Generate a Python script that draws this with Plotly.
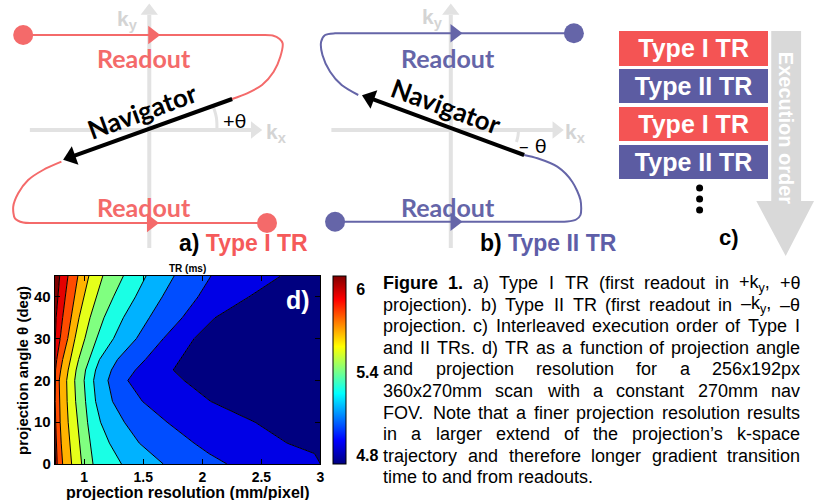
import math
import plotly.graph_objects as go

W, H = 825, 500          # design coordinates (reference pixels)
FIG_W, FIG_H = 825, 508  # figure size (page is photographed and fitted to 825x500)

# ======================= DATA =======================
# Panel d: filled-contour boundaries of TR (ms).
# For each TR level: projection resolution (mm/pixel) where the contour crosses each angle.
angle_deg = [0, 2.5, 5, 10, 15, 20, 22.5, 25, 30, 35, 40, 45]
tr_levels_ms = [4.87, 4.99, 5.11, 5.23, 5.35, 5.47, 5.59, 5.71, 5.83, 5.95]
res_tr_4_87 = [3.000, 2.950, 2.718, 2.447, 2.070, 1.845, 1.753, 1.812, 1.930, 2.107, 2.394, 2.663]
res_tr_4_99 = [2.208, 2.056, 1.930, 1.702, 1.492, 1.369, 1.433, 1.517, 1.669, 1.829, 1.963, 2.073]
res_tr_5_11 = [1.669, 1.567, 1.466, 1.340, 1.239, 1.201, 1.230, 1.281, 1.441, 1.551, 1.660, 1.761]
res_tr_5_23 = [1.315, 1.264, 1.213, 1.138, 1.096, 1.079, 1.096, 1.129, 1.247, 1.331, 1.433, 1.523]
res_tr_5_35 = [1.074, 1.062, 1.049, 1.028, 1.011, 0.999, 1.011, 1.041, 1.104, 1.167, 1.247, 1.331]
res_tr_5_47 = [0.978, 0.969, 0.961, 0.944, 0.927, 0.919, 0.931, 0.952, 1.005, 1.049, 1.104, 1.157]
res_tr_5_59 = [0.893, 0.885, 0.876, 0.864, 0.855, 0.851, 0.864, 0.881, 0.921, 0.956, 0.999, 1.039]
res_tr_5_71 = [0.817, 0.809, 0.805, 0.796, 0.792, 0.788, 0.801, 0.817, 0.860, 0.889, 0.919, 0.946]
res_tr_5_83 = [0.771, 0.767, 0.763, 0.758, 0.754, 0.753, 0.757, 0.767, 0.796, 0.817, 0.838, 0.862]
res_tr_5_95 = [0.757, 0.754, 0.750, 0.750, 0.750, 0.750, 0.750, 0.750, 0.755, 0.762, 0.775, 0.792]
res_axis = [0.75, 3.0]
angle_axis = [0, 45]
tr_colorbar = [4.74, 6.10]
res_ticks = [1, 1.5, 2, 2.5, 3]
res_ticktext = ["1", "1.5", "2", "2.5", "3"]
angle_ticks = [0, 10, 20, 30, 40]
tr_ticks = [4.8, 5.4, 6]
tr_ticktext = ["4.8", "5.4", "6"]

# Panel a: Type I TR k-space trajectory (kx, ky)
a_top_kx = [-1.267, 1.10, 1.24, 1.31, 1.34, 1.317, 1.25, 1.133, 0.983, 0.833]
a_top_ky = [0.95, 0.95, 0.945, 0.91, 0.867, 0.733, 0.583, 0.45, 0.367, 0.31]
a_nav_kx = [0.833, -0.87]
a_nav_ky = [0.31, -0.30]
a_bot_kx = [-0.883, -1.067, -1.217, -1.317, -1.367, -1.35, -1.267, -1.15, 1.183]
a_bot_ky = [-0.317, -0.40, -0.50, -0.633, -0.767, -0.883, -0.925, -0.93, -0.93]
a_dots_kx = [-1.267, 1.183]
a_dots_ky = [0.95, -0.93]
a_dir_kx = [0.03, 0.017]
a_dir_ky = [0.95, -0.93]

# Panel b: Type II TR k-space trajectory (kx, ky)
b_bot_kx = [-1.163, 1.0, 1.17, 1.26, 1.303, 1.303, 1.22, 1.07, 0.87, 0.737]
b_bot_ky = [-0.917, -0.917, -0.915, -0.895, -0.85, -0.70, -0.517, -0.367, -0.283, -0.25]
b_nav_kx = [0.737, -0.897]
b_nav_ky = [-0.25, 0.35]
b_top_kx = [-0.93, -1.097, -1.213, -1.29, -1.303, -1.263, -1.163, -1.0, 1.237]
b_top_ky = [0.35, 0.45, 0.583, 0.75, 0.883, 0.95, 0.967, 0.967, 0.967]
b_dots_kx = [-1.163, 1.237]
b_dots_ky = [-0.917, 0.967]
b_dir_kx = [0.037, 0.037]
b_dir_ky = [0.967, -0.917]

# k-space axes (shaft extents, head positions)
k_axis_x = [-1.2, 1.04]
k_axis_y = [-1.18, 1.15]
k_head_x = 1.06
k_head_y = 1.19

# Panel c: interleaved execution order
exec_order = ["Type I TR", "Type II TR", "Type I TR", "Type II TR"]
exec_slot = [1, 2, 3, 4]

# Caption
caption_lines = [
    "<b>Figure</b> <b>1.</b> a) Type I TR (first readout in +k<sub>y</sub>, +θ",
    "projection). b) Type II TR (first readout in –k<sub>y</sub>, –θ",
    "projection. c) Interleaved execution order of Type I",
    "and II TRs. d) TR as a function of projection angle",
    "and projection resolution for a 256x192px",
    "360x270mm scan with a constant 270mm nav",
    "FOV. Note that a finer projection resolution results",
    "in a larger extend of the projection’s k-space",
    "trajectory and therefore longer gradient transition",
    "time to and from readouts.",
]

# ======================= STYLE =======================
SALMON = "#f46a6a"
SALMON_TXT = "#f55a5a"
PURPLE = "#6565a8"
PURPLE_TXT = "#5e5ea8"
BOX_RED = "#f45454"
BOX_PURPLE = "#5c5ca2"
GRAY_AX = "rgb(226,226,226)"
GRAY_LBL = "rgb(212,212,212)"
ARIAL = "Liberation Sans, Arial, sans-serif"
CAL = "Lato, Open Sans, sans-serif"


def jet(f):
    r = min(max(1.5 - abs(4 * f - 3), 0), 1)
    g = min(max(1.5 - abs(4 * f - 2), 0), 1)
    b = min(max(1.5 - abs(4 * f - 1), 0), 1)
    return "rgb(%d,%d,%d)" % (round(255 * r), round(255 * g), round(255 * b))


JET = [[i / 8, jet(i / 8)] for i in range(9)]


def px(p):
    return p / W


def py(p):
    return 1 - p / H


fig = go.Figure()

# ---------------- Panel d ----------------
lines_hi_to_lo = [res_tr_5_95, res_tr_5_83, res_tr_5_71, res_tr_5_59, res_tr_5_47,
                  res_tr_5_35, res_tr_5_23, res_tr_5_11, res_tr_4_99, res_tr_4_87]
n_lv = len(tr_levels_ms)
fig.add_trace(go.Scatter(x=[res_axis[0]] * len(angle_deg), y=angle_deg, mode="lines",
                         line=dict(width=0), hoverinfo="skip", showlegend=False))
for i, xs in enumerate(lines_hi_to_lo):
    band = n_lv - i
    fig.add_trace(go.Scatter(x=xs, y=angle_deg, mode="lines",
                             line=dict(color="black", width=1),
                             fill="tonextx", fillcolor=jet(band / n_lv),
                             name="TR %.2f ms" % tr_levels_ms[band - 1],
                             hoverinfo="skip", showlegend=False))
fig.add_trace(go.Scatter(x=[res_axis[1]] * len(angle_deg), y=angle_deg, mode="lines",
                         line=dict(width=0), fill="tonextx", fillcolor=jet(0),
                         hoverinfo="skip", showlegend=False))
# continuous colorbar
fig.add_trace(go.Scatter(
    x=[res_axis[0]], y=[angle_axis[0]], mode="markers", showlegend=False, hoverinfo="skip",
    marker=dict(size=1, opacity=0, color=[tr_ticks[0]], colorscale=JET,
                cmin=tr_colorbar[0], cmax=tr_colorbar[1], showscale=True,
                colorbar=dict(x=px(335), xanchor="left", y=py(370), yanchor="middle",
                              len=188 / H, lenmode="fraction", thickness=13,
                              outlinecolor="black", outlinewidth=1, xpad=0, ypad=0,
                              tickvals=tr_ticks, ticktext=tr_ticktext, ticks="outside",
                              ticklen=7, tickcolor="rgba(0,0,0,0)",
                              tickfont=dict(family=ARIAL, size=16, color="black", weight="bold")))))

# ---------------- Panels a, b ----------------
for ax in ("x2", "x3"):
    yax = "y2" if ax == "x2" else "y3"
    fig.add_trace(go.Scatter(x=[0, 0], y=k_axis_y, xaxis=ax, yaxis=yax, mode="lines",
                             line=dict(color=GRAY_AX, width=4), hoverinfo="skip", showlegend=False))
    fig.add_trace(go.Scatter(x=k_axis_x, y=[0, 0], xaxis=ax, yaxis=yax, mode="lines",
                             line=dict(color=GRAY_AX, width=4), hoverinfo="skip", showlegend=False))
    fig.add_trace(go.Scatter(x=[0, k_head_x], y=[k_head_y, 0], xaxis=ax, yaxis=yax, mode="markers",
                             marker=dict(symbol=["triangle-up", "triangle-right"], size=15,
                                         color=GRAY_AX), hoverinfo="skip", showlegend=False))

# angle arcs
fig.add_trace(go.Scatter(x=[0.68, 0.675, 0.645], y=[0.0, 0.12, 0.23], xaxis="x2", yaxis="y2",
                         mode="lines", line=dict(color=GRAY_AX, width=3, shape="spline"),
                         hoverinfo="skip", showlegend=False))
fig.add_trace(go.Scatter(x=[0.68, 0.675, 0.66], y=[0.0, -0.06, -0.12], xaxis="x3", yaxis="y3",
                         mode="lines", line=dict(color=GRAY_AX, width=3, shape="spline"),
                         hoverinfo="skip", showlegend=False))

for (kx, ky, col, ax, yax) in [
    (a_top_kx, a_top_ky, SALMON, "x2", "y2"), (a_bot_kx, a_bot_ky, SALMON, "x2", "y2"),
    (b_top_kx, b_top_ky, PURPLE, "x3", "y3"), (b_bot_kx, b_bot_ky, PURPLE, "x3", "y3")]:
    fig.add_trace(go.Scatter(x=kx, y=ky, xaxis=ax, yaxis=yax, mode="lines",
                             line=dict(color=col, width=2, shape="spline", smoothing=0.8),
                             hoverinfo="skip", showlegend=False))

for (dx, dy, tx, ty, col, ax, yax) in [
    (a_dots_kx, a_dots_ky, a_dir_kx, a_dir_ky, SALMON, "x2", "y2"),
    (b_dots_kx, b_dots_ky, b_dir_kx, b_dir_ky, PURPLE, "x3", "y3")]:
    fig.add_trace(go.Scatter(x=dx, y=dy, xaxis=ax, yaxis=yax, mode="markers",
                             marker=dict(size=20, color=col), hoverinfo="skip", showlegend=False))
    fig.add_trace(go.Scatter(x=tx, y=ty, xaxis=ax, yaxis=yax, mode="markers",
                             marker=dict(size=16, color=col, symbol="triangle-right"),
                             hoverinfo="skip", showlegend=False))

# navigator arrows (shaft + rotated triangle head)
HEAD_BACK = 0.09
for (nx, ny, ax, yax) in [(a_nav_kx, a_nav_ky, "x2", "y2"), (b_nav_kx, b_nav_ky, "x3", "y3")]:
    dxn, dyn = nx[1] - nx[0], ny[1] - ny[0]
    L = math.hypot(dxn, dyn)
    ux, uy = dxn / L, dyn / L
    cx, cy = nx[1] - HEAD_BACK * ux, ny[1] - HEAD_BACK * uy
    phi = math.degrees(math.atan2(dyn, dxn)) % 360
    mangle = -(phi - 180)
    fig.add_trace(go.Scatter(x=[nx[0], cx], y=[ny[0], cy], xaxis=ax, yaxis=yax, mode="lines",
                             line=dict(color="black", width=4), hoverinfo="skip", showlegend=False))
    fig.add_trace(go.Scatter(x=[cx], y=[cy], xaxis=ax, yaxis=yax, mode="markers",
                             marker=dict(symbol="triangle-left", size=17, color="black", angle=mangle,
                                         line=dict(width=0)),
                             hoverinfo="skip", showlegend=False))

# ---------------- Panel c ----------------
fig.add_trace(go.Bar(
    x=[1] * len(exec_order), y=exec_slot, orientation="h", width=0.9, base=0,
    xaxis="x4", yaxis="y4",
    marker=dict(color=[BOX_RED if t == "Type I TR" else BOX_PURPLE for t in exec_order], line=dict(width=0)),
    text=exec_order, textposition="inside", insidetextanchor="middle", textangle=0,
    textfont=dict(family=ARIAL, size=25, color="white", weight="bold"),
    hoverinfo="skip", showlegend=False))
fig.add_trace(go.Scatter(x=[0.54, 0.54, 0.54], y=[4.68, 4.97, 5.26], xaxis="x4", yaxis="y4",
                         mode="markers", marker=dict(size=7, color="black"), cliponaxis=False,
                         hoverinfo="skip", showlegend=False))

# ======================= ANNOTATIONS =======================
ann = []


def A(text, x, y, xref="paper", yref="paper", size=15, color="black", family=ARIAL,
      bold=False, angle=0, xanchor="center", yanchor="middle"):
    f = dict(family=family, size=size, color=color)
    if bold:
        f["weight"] = "bold"
    ann.append(dict(text=text, x=x, y=y, xref=xref, yref=yref, showarrow=False, font=f,
                    textangle=angle, xanchor=xanchor, yanchor=yanchor))


# panel a
A("Readout", -0.05, 0.72, "x2", "y2", 25, SALMON, CAL, True)
A("Readout", -0.05, -0.77, "x2", "y2", 25, SALMON, CAL, True)
A("Navigator", -0.07, 0.19, "x2", "y2", 26, "black", CAL, True, angle=-20)
A("+θ", 0.86, 0.10, "x2", "y2", 20, "black", CAL)
A("k<sub>y</sub>", -0.22, 1.10, "x2", "y2", 21, GRAY_LBL, ARIAL, True)
A("k<sub>x</sub>", 1.28, -0.03, "x2", "y2", 21, GRAY_LBL, ARIAL, True)
A("a) <span style='color:%s'>Type I TR</span>" % SALMON_TXT, px(178), py(243), size=23,
  bold=True, xanchor="left")

# panel b
A("Readout", -0.03, 0.72, "x3", "y3", 25, PURPLE, CAL, True)
A("Readout", -0.03, -0.77, "x3", "y3", 25, PURPLE, CAL, True)
A("Navigator", -0.05, 0.24, "x3", "y3", 26, "black", CAL, True, angle=20)
A("– θ", 0.82, -0.15, "x3", "y3", 20, "black", CAL)
A("k<sub>y</sub>", -0.18, 1.12, "x3", "y3", 21, GRAY_LBL, ARIAL, True)
A("k<sub>x</sub>", 1.25, -0.03, "x3", "y3", 21, GRAY_LBL, ARIAL, True)
A("b) <span style='color:%s'>Type II TR</span>" % PURPLE_TXT, px(480), py(243), size=23,
  bold=True, xanchor="left")

# panel c
A("Execution order", px(790), py(128), size=20, color="white", bold=True, angle=90)
A("c)", px(720), py(237), size=22, bold=True, xanchor="left")

# panel d
A("TR (ms)", px(188.5), py(268), size=10, bold=True)
A("d)", px(299), py(300), size=25, color="white", bold=True)
A("projection angle θ (deg)", px(22), py(370), size=15, bold=True, angle=-90)
A("projection resolution (mm/pixel)", px(188.5), py(492), size=16, bold=True)

# ---------------- caption (justified) ----------------
REG = {' ': 278, 'a': 556, 'b': 556, 'c': 500, 'd': 556, 'e': 556, 'f': 278, 'g': 556, 'h': 556,
       'i': 222, 'j': 222, 'k': 500, 'l': 222, 'm': 833, 'n': 556, 'o': 556, 'p': 556, 'q': 556,
       'r': 333, 's': 500, 't': 278, 'u': 556, 'v': 500, 'w': 722, 'x': 500, 'y': 500, 'z': 500,
       '.': 278, ',': 278, '(': 333, ')': 333, '-': 333, '–': 556, '’': 222, '+': 584, '/': 278,
       'θ': 556, 'A': 667, 'C': 722, 'D': 722, 'F': 611, 'I': 278, 'N': 722, 'O': 778, 'R': 722,
       'T': 611, 'V': 667}
BOLD = {'F': 611, 'i': 278, 'g': 611, 'u': 611, 'r': 389, 'e': 556, '1': 556, '.': 278}
CAP_SIZE = 18
CAP_L, CAP_R = 383, 802


def word_width(w):
    total, bold, sub, i = 0.0, False, False, 0
    while i < len(w):
        if w.startswith("<b>", i):
            bold = True; i += 3; continue
        if w.startswith("</b>", i):
            bold = False; i += 4; continue
        if w.startswith("<sub>", i):
            sub = True; i += 5; continue
        if w.startswith("</sub>", i):
            sub = False; i += 6; continue
        ch = w[i]
        v = (BOLD.get(ch) if bold else None) or REG.get(ch, 556)
        total += v * (0.7 if sub else 1.0)
        i += 1
    return total / 1000.0 * CAP_SIZE


for li, line in enumerate(caption_lines):
    yc = 283 + li * 21.6
    words = line.split(" ")
    if li == len(caption_lines) - 1:
        A(line, px(CAP_L), py(yc), size=CAP_SIZE, xanchor="left")
        continue
    widths = [word_width(w) for w in words]
    gap = (CAP_R - CAP_L - sum(widths)) / (len(words) - 1)
    xcur = CAP_L
    for w, wd in zip(words, widths):
        A(w, px(xcur), py(yc), size=CAP_SIZE, xanchor="left")
        xcur += wd + gap

# ======================= SHAPES =======================
def P(xp, yp):
    return "%.5f,%.5f" % (px(xp), py(yp))


shapes = [dict(type="path", xref="paper", yref="paper", layer="below", line=dict(width=0),
               fillcolor="rgb(217,217,217)",
               path="M " + " L ".join([P(775, 31), P(805, 31), P(805, 201), P(818, 201),
                                       P(789.5, 256), P(760, 201), P(775, 201)]) + " Z")]

# ======================= LAYOUT =======================
hidden = dict(visible=False, fixedrange=True)
tickfont = dict(family=ARIAL, size=14, color="black", weight="bold")
fig.update_layout(
    width=FIG_W, height=FIG_H, margin=dict(l=0, r=0, t=0, b=0, pad=0), autosize=False,
    paper_bgcolor="white", plot_bgcolor="white", showlegend=False,
    xaxis=dict(domain=[px(55), px(322)], range=res_axis, tickvals=res_ticks, ticktext=res_ticktext,
               ticks="inside", ticklen=5, tickcolor="black", mirror="ticks", showline=True,
               linecolor="black", linewidth=1, showgrid=False, zeroline=False, tickfont=tickfont,
               fixedrange=True),
    yaxis=dict(domain=[py(464), py(276)], range=angle_axis, tickvals=angle_ticks,
               ticks="inside", ticklen=5, tickcolor="black", mirror="ticks", showline=True,
               linecolor="black", linewidth=1, showgrid=False, zeroline=False,
               tickfont=dict(family=ARIAL, size=15, color="black", weight="bold"),
               fixedrange=True),
    xaxis2=dict(domain=[px(0), px(300)], range=[-1.5, 1.5], **hidden),
    yaxis2=dict(domain=[py(260), py(0)], range=[-1.3, 1.3], **hidden),
    xaxis3=dict(domain=[px(303), px(603)], range=[-1.5, 1.5], **hidden),
    yaxis3=dict(domain=[py(260), py(0)], range=[-1.3, 1.3], **hidden),
    xaxis4=dict(domain=[px(622), px(772)], range=[0, 1], **hidden),
    yaxis4=dict(domain=[py(219.15), py(29.5)], range=[5.5, 0.5], **hidden),
    annotations=ann, shapes=shapes, bargap=0,
)

fig.write_html("out.html", config={"displayModeBar": False, "staticPlot": True},
               post_script="document.body.style.margin='0px';")
